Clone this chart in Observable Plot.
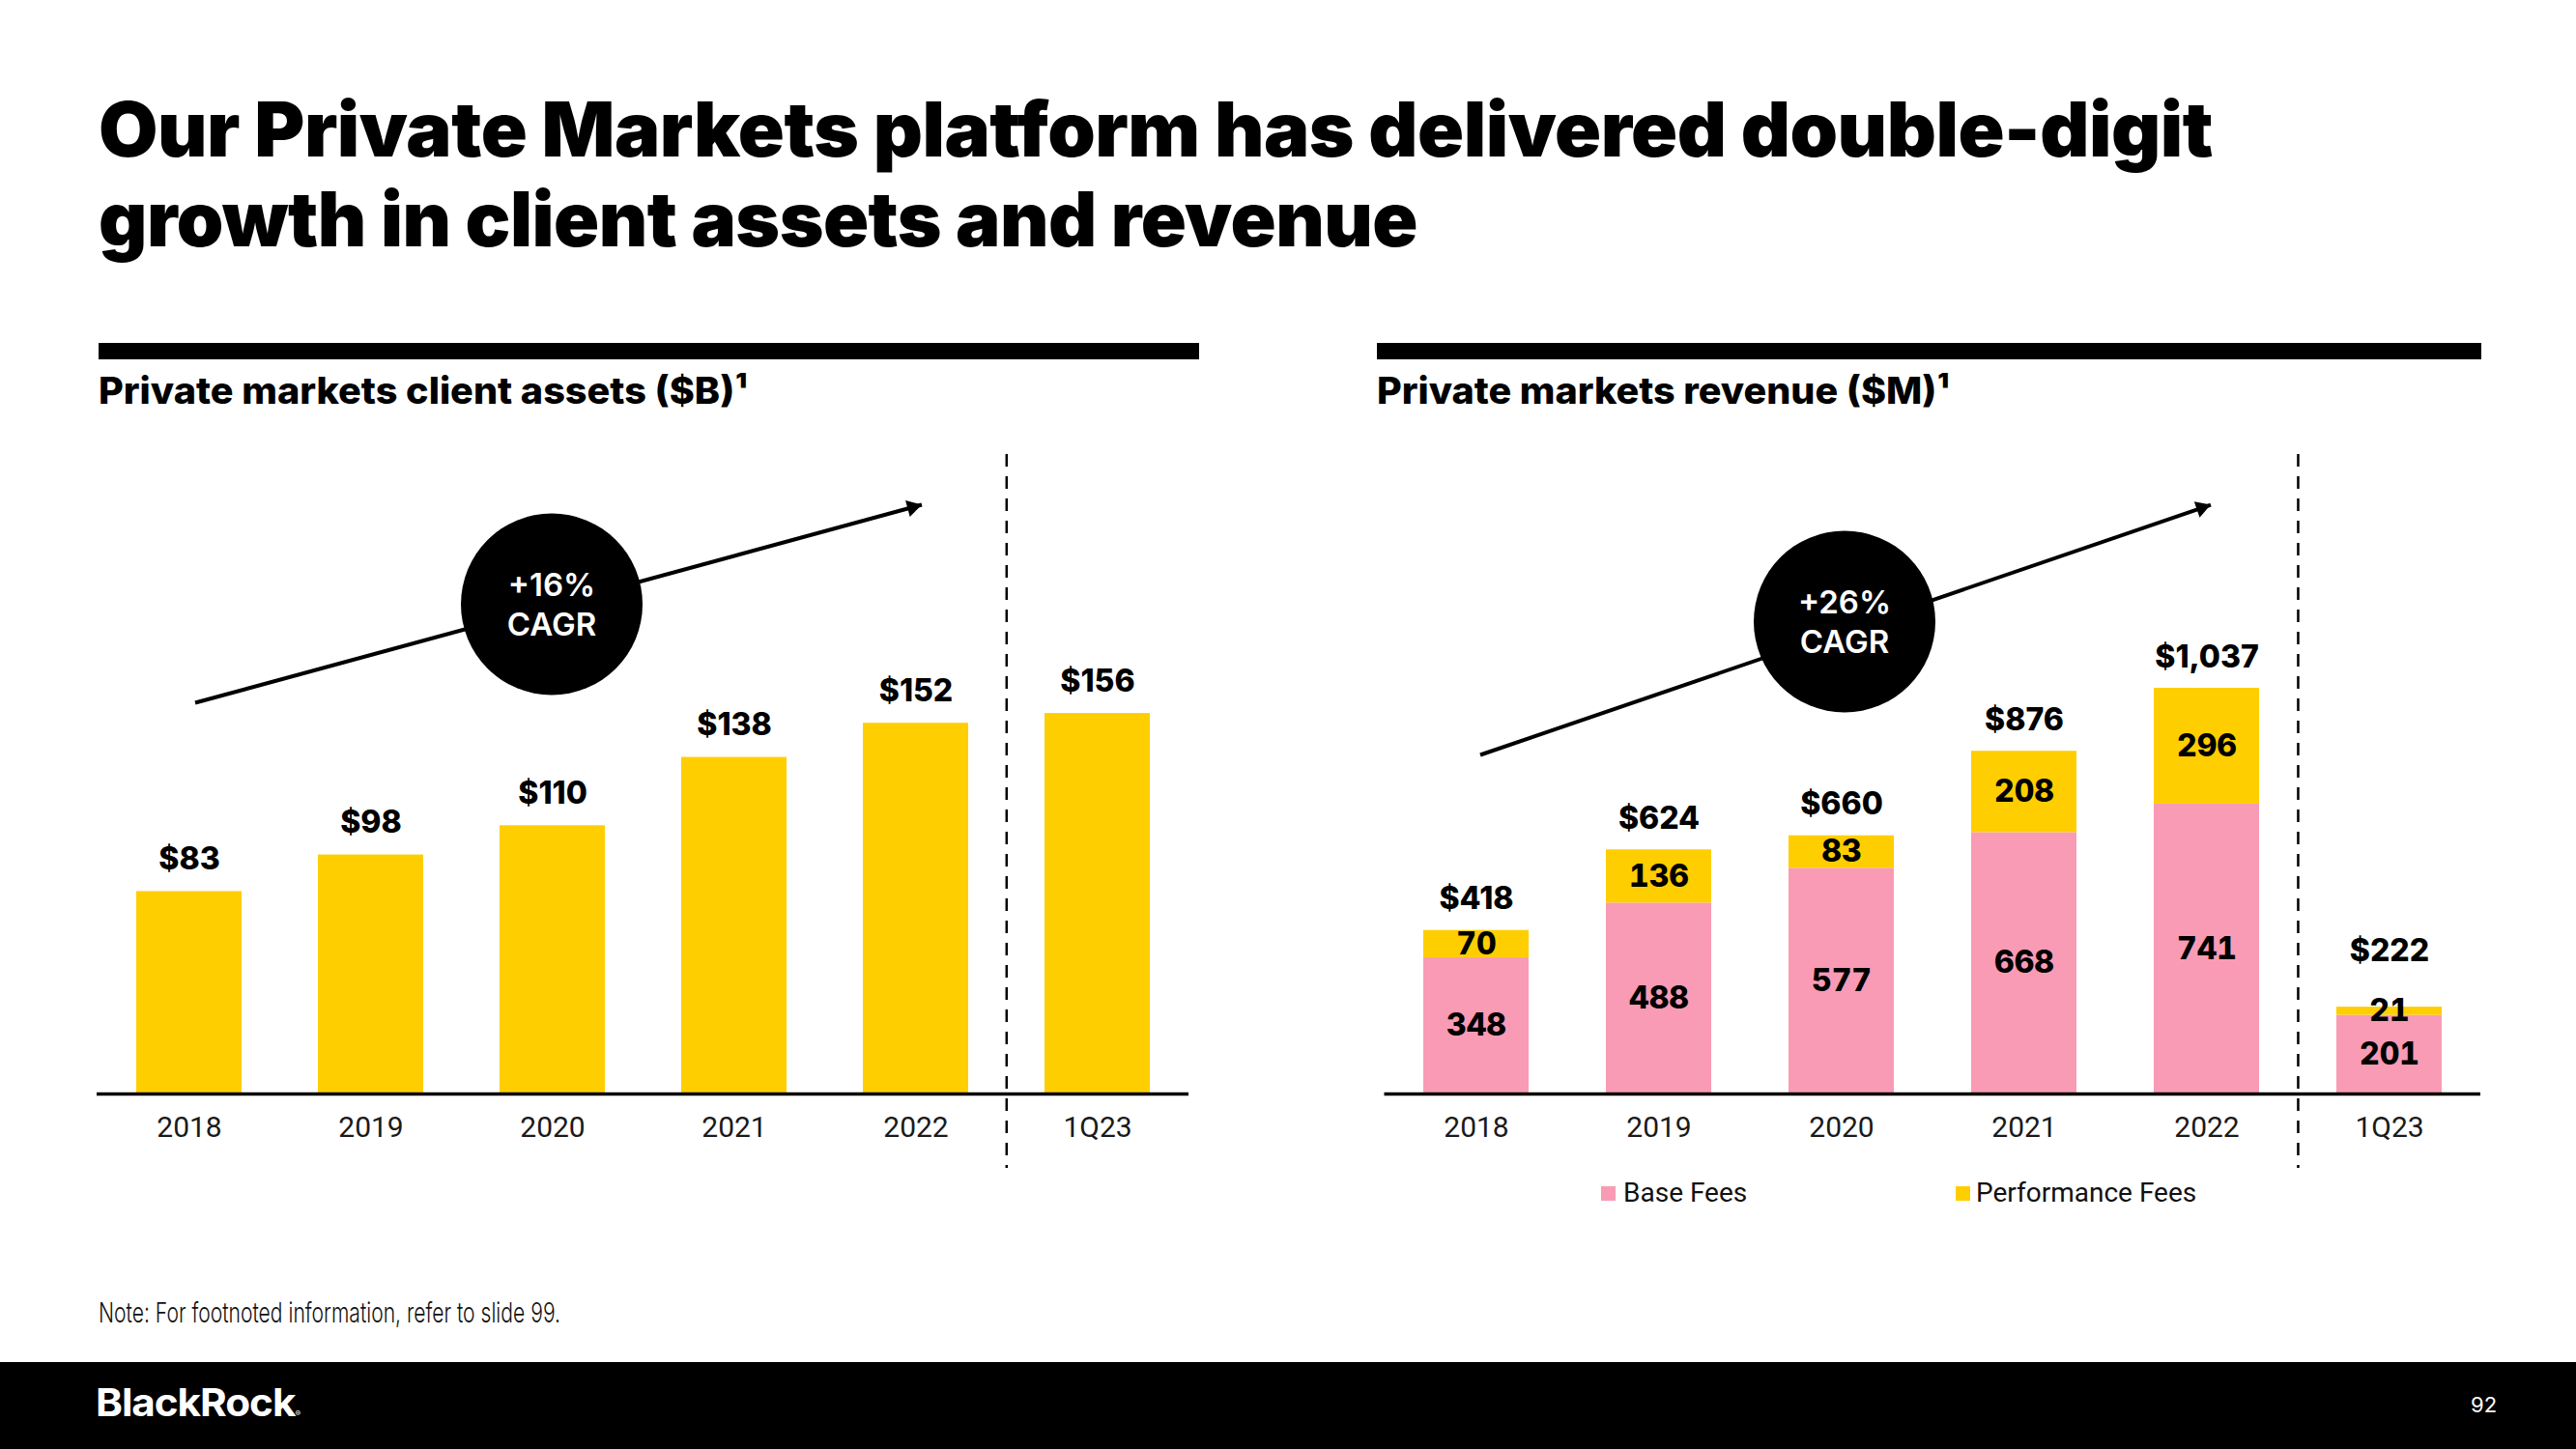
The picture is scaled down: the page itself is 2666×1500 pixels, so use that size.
<!DOCTYPE html>
<html>
<head>
<meta charset="utf-8">
<script src="https://cdn.jsdelivr.net/npm/d3@7"></script>
<script src="https://cdn.jsdelivr.net/npm/@observablehq/plot@0.6"></script>
<style>
  html, body { margin: 0; padding: 0; }
  body { width: 2666px; height: 1500px; position: relative; background: #fff; overflow: hidden; font-family: Inter, "Noto Sans", sans-serif; color: #000; }
  .abs { position: absolute; white-space: nowrap; line-height: 1; transform-origin: 0 0; }
  .title { font-size: 78px; font-weight: 900; left: 102px; letter-spacing: -0.5px; }
  .sub { font-size: 38px; font-weight: 800; top: 385px; }
  .band { position: absolute; background: #000; height: 17px; top: 355px; }
  .chart { position: absolute; top: 460px; }
  .legend-sw { position: absolute; width: 15px; height: 15px; top: 1228px; }
  .legend-tx { position: absolute; font-family: Roboto, sans-serif; font-size: 28px; line-height: 34px; top: 1218px; color: #111; white-space: nowrap; }
  #footer { position: absolute; left: 0; top: 1410px; width: 2666px; height: 90px; background: #000; }
</style>
</head>
<body>
<div class="abs title fit" data-w="2188" style="top:95px">Our Private Markets platform has delivered double-digit</div>
<div class="abs title fit" data-w="1365" style="top:188px">growth in client assets and revenue</div>

<div class="band" style="left:102px;width:1139px"></div>
<div class="band" style="left:1425px;width:1143px"></div>
<div class="abs sub fit" data-w="672" style="left:102px">Private markets client assets ($B)¹</div>
<div class="abs sub fit" data-w="593" style="left:1425px">Private markets revenue ($M)¹</div>

<div id="left" class="chart" style="left:0px"></div>
<div id="right" class="chart" style="left:1333px"></div>

<div id="legend"></div>

<div class="abs fit" data-w="478" style="left:102px;top:1344px;font-size:29px;font-weight:300;color:#111">Note: For footnoted information, refer to slide 99.</div>

<div id="footer"></div>
<div class="abs fit" data-w="211" style="left:99px;top:1432px;font-size:40px;font-weight:700;color:#fff;letter-spacing:-1px">BlackRock<span style="font-size:8px;font-weight:400">®</span></div>
<div class="abs" style="left:2557px;top:1443px;font-size:22px;font-weight:400;color:#fff">92</div>

<script>
// ---------------- data ----------------
const years = ["2018", "2019", "2020", "2021", "2022", "1Q23"];
const clientAssets = [83, 98, 110, 138, 152, 156];          // $B
const baseFees = [348, 488, 577, 668, 741, 201];             // $M
const performanceFees = [70, 136, 83, 208, 296, 21];         // $M
const seriesNames = ["Base Fees", "Performance Fees"];
const cagrLabels = ["+16%\nCAGR", "+26%\nCAGR"];
// annotation anchors (in data units of each chart)
const assetsTrend = {from: "2018", to: "2022", y1: 160.4, y2: 241.6, badgeX: "2020", badgeY: 200.8};
const revenueTrend = {from: "2018", to: "2022", y1: 866.7, y2: 1506, badgeX: "2020", badgeY: 1207.4};

// ---------------- styles ----------------
const YELLOW = "#FFCE00";
const PINK = "#F99BB4";
const LABEL_FONT = "Inter, 'Noto Sans', sans-serif";

const money = v => "$" + d3.format(",")(v);

const common = {
  width: 1333,
  height: 780,
  marginTop: 10,
  marginBottom: 108,
  style: {fontFamily: "Roboto, sans-serif", fontSize: "30px", color: "#1a1a1a", background: "transparent", overflow: "visible"}
};
const xScale = {domain: years, paddingInner: 0.422, paddingOuter: 0.211, align: 0.5, axis: null, label: null};

// arrow-head geometry (pixel styling): rotation of the head and offset of the triangle centroid behind the tip
function headOffset(rotateDeg, r) {
  const t = rotateDeg * Math.PI / 180;
  const c = 2 * Math.sqrt(Math.PI * r * r / (3 * Math.sqrt(3)));
  return {dx: -c * Math.sin(t), dy: c * Math.cos(t)};
}

function decorations(trend, cagrText, step, shaftDx, headRotate, badgeDx) {
  const headR = 6.5;
  const off = headOffset(headRotate, headR);
  return [
    Plot.ruleY([0], {stroke: "#000", strokeWidth: 3.5}),
    Plot.ruleX(["1Q23"], {dx: -step / 2, stroke: "#000", strokeWidth: 2.5, strokeDasharray: "13,10", insetBottom: -77}),
    Plot.axisX({tickSize: 0, tickPadding: 23, fontSize: 30, fill: "#1a1a1a", label: null}),
    Plot.link([trend], {x1: "from", y1: "y1", x2: "to", y2: "y2", dx: shaftDx, stroke: "#000", strokeWidth: 4}),
    Plot.dot([trend], {x: "to", y: "y2", symbol: "triangle", r: headR, rotate: headRotate, fill: "#000", stroke: "none", dx: shaftDx + off.dx, dy: off.dy}),
    Plot.dot([trend], {x: "badgeX", y: "badgeY", r: 94, fill: "#000", stroke: "none", dx: badgeDx}),
    Plot.text([trend], {x: "badgeX", y: "badgeY", text: () => cagrText, fill: "#fff", fontSize: 33, fontWeight: 600, fontFamily: LABEL_FONT, lineHeight: 1.24, dy: -1, dx: badgeDx})
  ];
}

// ---------------- left: client assets ----------------
const assetRows = years.map((year, i) => ({year, value: clientAssets[i]}));
const leftChart = Plot.plot({
  ...common,
  marginLeft: 100,
  marginRight: 103,
  x: xScale,
  y: {domain: [0, 262.2], axis: null},
  marks: [
    Plot.barY(assetRows, {x: "year", y: "value", fill: YELLOW}),
    ...decorations(assetsTrend, cagrLabels[0], 188.4, 6, 74.75, -1),
    Plot.text(assetRows, {x: "year", y: "value", text: d => money(d.value), dy: -33, fontSize: 32, fontWeight: 800, fontFamily: LABEL_FONT, fill: "#000"})
  ]
});
document.getElementById("left").append(leftChart);

// ---------------- right: revenue ----------------
const revenueRows = [];
years.forEach((year, i) => {
  revenueRows.push({year, type: seriesNames[0], value: baseFees[i], mid: baseFees[i] / 2});
  revenueRows.push({year, type: seriesNames[1], value: performanceFees[i], mid: baseFees[i] + performanceFees[i] / 2});
});
const totalRows = years.map((year, i) => ({year, total: baseFees[i] + performanceFees[i]}));
const lastYear = years[years.length - 1];

const rightChart = Plot.plot({
  ...common,
  marginLeft: 99.5,
  marginRight: 99,
  x: xScale,
  y: {domain: [0, 1634.6], axis: null},
  color: {domain: seriesNames, range: [PINK, YELLOW]},
  marks: [
    Plot.barY(revenueRows, {x: "year", y: "value", fill: "type"}),
    ...decorations(revenueTrend, cagrLabels[1], 189.1, 4, 71.16, 3),
    Plot.text(revenueRows, {x: "year", y: "mid", text: "value", fontSize: 32, fontWeight: 800, fontFamily: LABEL_FONT, fill: "#000"}),
    Plot.text(totalRows.filter(d => d.year !== lastYear), {x: "year", y: "total", text: d => money(d.total), dy: -32, fontSize: 32, fontWeight: 800, fontFamily: LABEL_FONT, fill: "#000"}),
    Plot.text(totalRows.filter(d => d.year === lastYear), {x: "year", y: "total", text: d => money(d.total), dy: -58, fontSize: 32, fontWeight: 800, fontFamily: LABEL_FONT, fill: "#000"})
  ]
});
document.getElementById("right").append(rightChart);

// ---------------- legend ----------------
const legend = document.getElementById("legend");
const legendX = [[1657, 1680], [2024, 2045]];
seriesNames.forEach((name, i) => {
  const sw = document.createElement("div");
  sw.className = "legend-sw";
  sw.style.left = legendX[i][0] + "px";
  sw.style.background = [PINK, YELLOW][i];
  legend.append(sw);
  const tx = document.createElement("div");
  tx.className = "legend-tx";
  tx.style.left = legendX[i][1] + "px";
  tx.textContent = name;
  legend.append(tx);
});

// ---------------- fit text widths ----------------
function fit() {
  document.querySelectorAll(".fit").forEach(el => {
    el.style.transform = "none";
    const w = el.getBoundingClientRect().width;
    const target = +el.dataset.w;
    if (w > 0) el.style.transform = `scaleX(${target / w})`;
  });
}
fit();
if (document.fonts && document.fonts.ready) document.fonts.ready.then(fit);
</script>
</body>
</html>
